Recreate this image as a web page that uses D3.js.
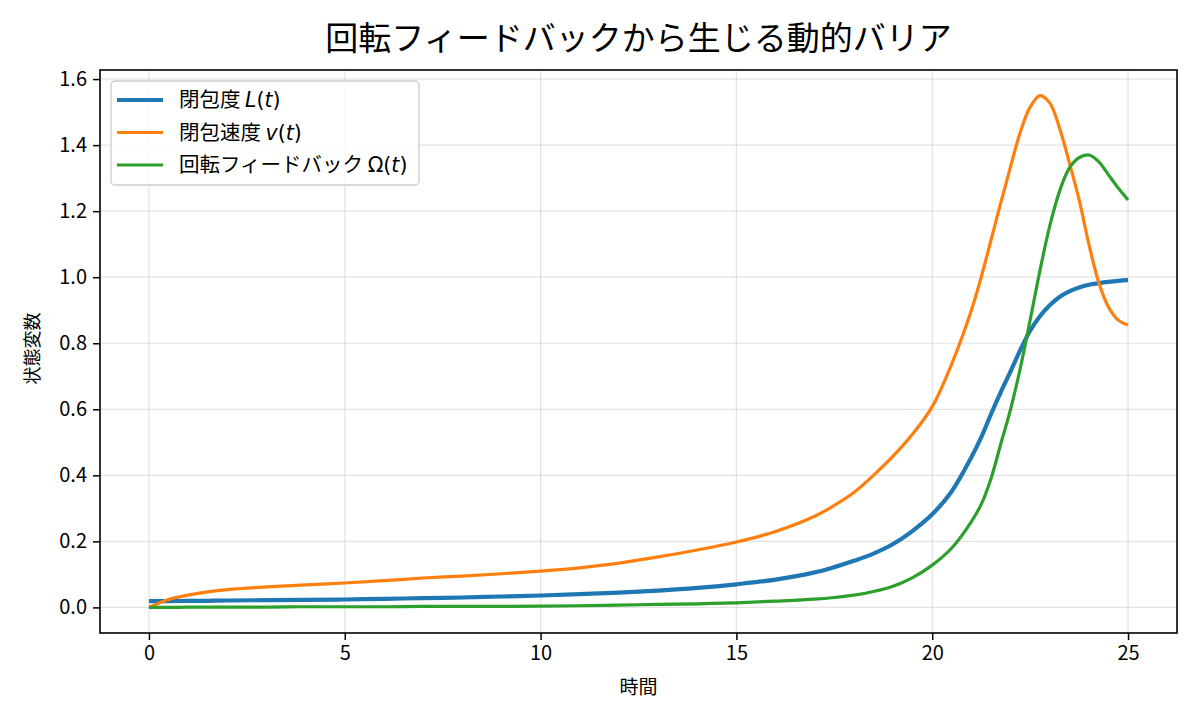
<!DOCTYPE html>
<html>
<head>
<meta charset="utf-8">
<script src="https://cdn.jsdelivr.net/npm/d3@7"></script>
<style>
  body { margin: 0; background: white; }
  svg { display: block; }
  text { font-family: "Noto Sans CJK JP", "Noto Sans", sans-serif; fill: #000; }
  .math { font-family: "DejaVu Sans", sans-serif; }
</style>
</head>
<body>
<svg id="chart" width="1200" height="720"></svg>
<script>
// sample times
let time = [0, 0.5, 1, 1.5, 2, 3, 4, 5, 6, 7, 8, 9, 10, 11, 12, 13, 14, 15, 16, 17, 17.5, 18, 18.5,
            19, 19.5, 20, 20.5, 21, 21.25, 21.5, 21.75, 22, 22.25, 22.5, 22.75, 23, 23.25, 23.5,
            23.75, 24, 24.25, 24.5, 24.75, 25]

// 閉包度 L(t)
let closure = [0.019, 0.019, 0.020, 0.020, 0.021, 0.022, 0.023, 0.024, 0.026, 0.028, 0.030, 0.033,
               0.036, 0.040, 0.045, 0.051, 0.059, 0.070, 0.084, 0.106, 0.122, 0.141, 0.163,
               0.192, 0.232, 0.282, 0.352, 0.455, 0.515, 0.585, 0.652, 0.715, 0.780, 0.838,
               0.882, 0.915, 0.940, 0.957, 0.969, 0.977, 0.982, 0.986, 0.989, 0.991]

// 閉包速度 v(t)
let speed = [0.000, 0.024, 0.037, 0.047, 0.054, 0.062, 0.068, 0.074, 0.081, 0.089, 0.095, 0.102,
             0.110, 0.120, 0.134, 0.153, 0.174, 0.198, 0.230, 0.276, 0.309, 0.348, 0.400,
             0.458, 0.525, 0.608, 0.738, 0.900, 1.000, 1.112, 1.225, 1.335, 1.440, 1.515,
             1.550, 1.528, 1.452, 1.347, 1.235, 1.100, 0.985, 0.910, 0.870, 0.855]

// 回転フィードバック Ω(t)
let feedback = [0.000, 0.000, 0.001, 0.001, 0.001, 0.001, 0.002, 0.002, 0.002, 0.003, 0.003, 0.003,
                0.004, 0.005, 0.007, 0.009, 0.011, 0.014, 0.019, 0.025, 0.030, 0.037, 0.048,
                0.064, 0.090, 0.128, 0.180, 0.260, 0.312, 0.390, 0.495, 0.600, 0.725, 0.870,
                1.020, 1.155, 1.260, 1.330, 1.362, 1.370, 1.350, 1.310, 1.270, 1.234]

let xTicks = [0, 5, 10, 15, 20, 25]
let yTicks = [0.0, 0.2, 0.4, 0.6, 0.8, 1.0, 1.2, 1.4, 1.6]

let series = [
    {values: closure, color: "#1f77b4", width: 4.2, name: "閉包度 ", math: [["L", true], ["(", false], ["t", true], [")", false]]},
    {values: speed, color: "#ff7f0e", width: 3.2, name: "閉包速度 ", math: [["v", true], ["(", false], ["t", true], [")", false]]},
    {values: feedback, color: "#2ca02c", width: 3.2, name: "回転フィードバック ", math: [["Ω(", false], ["t", true], [")", false]]}
]

let svg = d3.select("#chart")
let pLeft = 100, pRight = 1177, pTop = 70, pBottom = 633

let x = d3.scaleLinear().domain([-1.25, 26.25]).range([pLeft, pRight])
let y = d3.scaleLinear().domain([-0.0775, 1.6275]).range([pBottom, pTop])

// grid
let grid = svg.append("g")
grid.selectAll(".gx").data(xTicks).enter().append("line")
    .attr("x1", d => x(d)).attr("x2", d => x(d))
    .attr("y1", pTop).attr("y2", pBottom)
    .attr("stroke", "#b0b0b0").attr("stroke-opacity", 0.35).attr("stroke-width", 1.2)
grid.selectAll(".gy").data(yTicks).enter().append("line")
    .attr("x1", pLeft).attr("x2", pRight)
    .attr("y1", d => y(d)).attr("y2", d => y(d))
    .attr("stroke", "#b0b0b0").attr("stroke-opacity", 0.35).attr("stroke-width", 1.2)

// lines
let line = (vals) => d3.line()
    .x((d, i) => x(time[i]))
    .y(d => y(d))
    .curve(d3.curveCatmullRom.alpha(0.5))(vals)

svg.append("g").selectAll("path")
    .data(series).enter()
    .append("path")
    .attr("d", d => line(d.values))
    .attr("fill", "none")
    .attr("stroke", d => d.color)
    .attr("stroke-width", d => d.width)
    .attr("stroke-linejoin", "round")
    .attr("stroke-linecap", "butt")

// axes
let xAxis = svg.append("g")
    .attr("transform", "translate(0," + pBottom + ")")
    .call(d3.axisBottom(x).tickValues(xTicks).tickFormat(d3.format("d")).tickSize(7).tickPadding(6))
let yAxis = svg.append("g")
    .attr("transform", "translate(" + pLeft + ",0)")
    .call(d3.axisLeft(y).tickValues(yTicks).tickFormat(d3.format(".1f")).tickSize(7).tickPadding(6))

for (let ax of [xAxis, yAxis]) {
    ax.select(".domain").remove()
    ax.selectAll(".tick line").attr("stroke", "#000").attr("stroke-width", 1.5)
    ax.selectAll(".tick text").style("font-size", "20px")
        .style("font-family", "'Noto Sans CJK JP', sans-serif").attr("fill", "#000")
}

svg.append("rect")
    .attr("x", pLeft).attr("y", pTop)
    .attr("width", pRight - pLeft).attr("height", pBottom - pTop)
    .attr("fill", "none").attr("stroke", "#000").attr("stroke-width", 1.6)

// legend
let lg = svg.append("g")
lg.append("rect")
    .attr("x", 111).attr("y", 81).attr("width", 308).attr("height", 104)
    .attr("rx", 4)
    .attr("fill", "white").attr("fill-opacity", 0.8)
    .attr("stroke", "#cccccc").attr("stroke-width", 1.3)

let rows = lg.selectAll(".row").data(series).enter().append("g")
    .attr("transform", (d, i) => "translate(0," + (100 + i * 32.5) + ")")
rows.append("line")
    .attr("x1", 117).attr("x2", 163)
    .attr("stroke", d => d.color).attr("stroke-width", d => d.width)
let lt = rows.append("text")
    .attr("x", 179).attr("dy", "0.36em")
    .style("font-size", "20.5px")
lt.append("tspan").text(d => d.name)
lt.each(function (d) {
    let t = d3.select(this)
    for (let part of d.math) {
        t.append("tspan").attr("class", "math")
            .style("font-style", part[1] ? "italic" : "normal")
            .text(part[0])
    }
})

// titles
svg.append("text")
    .attr("x", 638.5).attr("y", 38).attr("dy", "0.35em")
    .attr("text-anchor", "middle")
    .style("font-size", "33px")
    .text("回転フィードバックから生じる動的バリア")

svg.append("text")
    .attr("x", 638.5).attr("y", 687).attr("dy", "0.35em")
    .attr("text-anchor", "middle")
    .style("font-size", "19px")
    .text("時間")

svg.append("text")
    .attr("transform", "translate(33," + ((pTop + pBottom) / 2 - 3) + ") rotate(-90)")
    .attr("dy", "0.35em")
    .attr("text-anchor", "middle")
    .style("font-size", "18px")
    .text("状態変数")
</script>
</body>
</html>
